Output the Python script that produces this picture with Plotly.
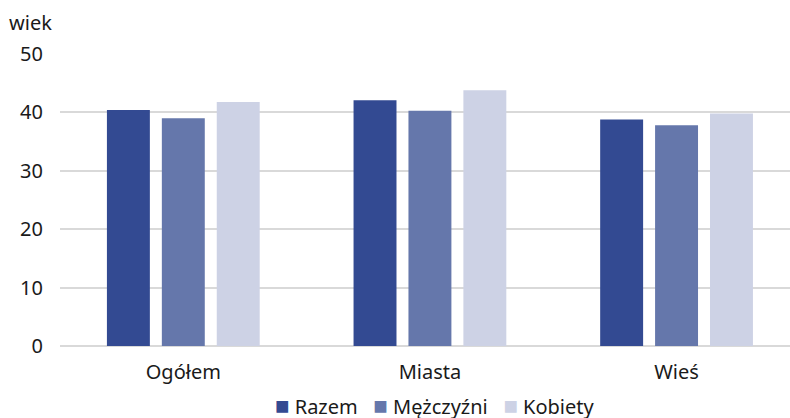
import plotly.graph_objects as go

categories = ["Ogółem", "Miasta", "Wieś"]
series_names = ["Razem", "Mężczyźni", "Kobiety"]
razem = [40.4, 42.1, 38.8]
mezczyzni = [39.0, 40.3, 37.8]
kobiety = [41.8, 43.8, 39.8]
y_ticks = [0, 10, 20, 30, 40, 50]
colors = ["#334a92", "#6577ab", "#cdd2e5"]

FONT = "Noto Sans"
FS = 20
TXT = "#1a1a1a"
W, H = 790, 418

fig = go.Figure()
for name, vals, col in zip(series_names, [razem, mezczyzni, kobiety], colors):
    fig.add_trace(go.Bar(name=name, x=categories, y=vals,
                         marker=dict(color=col, line=dict(width=0))))

# legend drawn as one text line with coloured squares (tight symbol/text gap)
NB = "\u00a0"
legend_text = (NB * 3).join(
    f'<span style="color:{c};font-size:24px">■</span>{NB}{n}'
    for n, c in zip(series_names, colors)
)

fig.update_layout(
    width=W, height=H,
    margin=dict(l=60, r=0, t=54, b=72),
    paper_bgcolor="white", plot_bgcolor="white",
    barmode="group", bargap=0.332, bargroupgap=0.218,
    font=dict(family=FONT, size=FS, color=TXT),
    title=dict(text="wiek", x=9/W, xanchor="left", xref="container",
               y=1-23/H, yanchor="middle", yref="container",
               font=dict(family=FONT, size=FS, color=TXT)),
    showlegend=False,
    annotations=[dict(text=legend_text, xref="paper", yref="paper",
                      x=(434.5-60)/730, xanchor="center",
                      y=-(404-346)/292, yanchor="middle",
                      showarrow=False, font=dict(family=FONT, size=FS, color=TXT))],
)
fig.update_xaxes(range=[-0.5, 2.46], showgrid=False, showline=False, ticks="",
                 ticklabelstandoff=12, tickfont=dict(size=FS))
fig.update_yaxes(range=[0, 50], tickvals=y_ticks, showgrid=True, gridcolor="#d9d9d9",
                 gridwidth=2, zeroline=True, zerolinecolor="#d9d9d9", zerolinewidth=2,
                 showline=False, ticks="", ticklabelstandoff=16, tickfont=dict(size=FS))

fig.write_html("out.html", config={"displayModeBar": False},
               post_script="document.body.style.margin='0';document.body.style.overflow='hidden';")
